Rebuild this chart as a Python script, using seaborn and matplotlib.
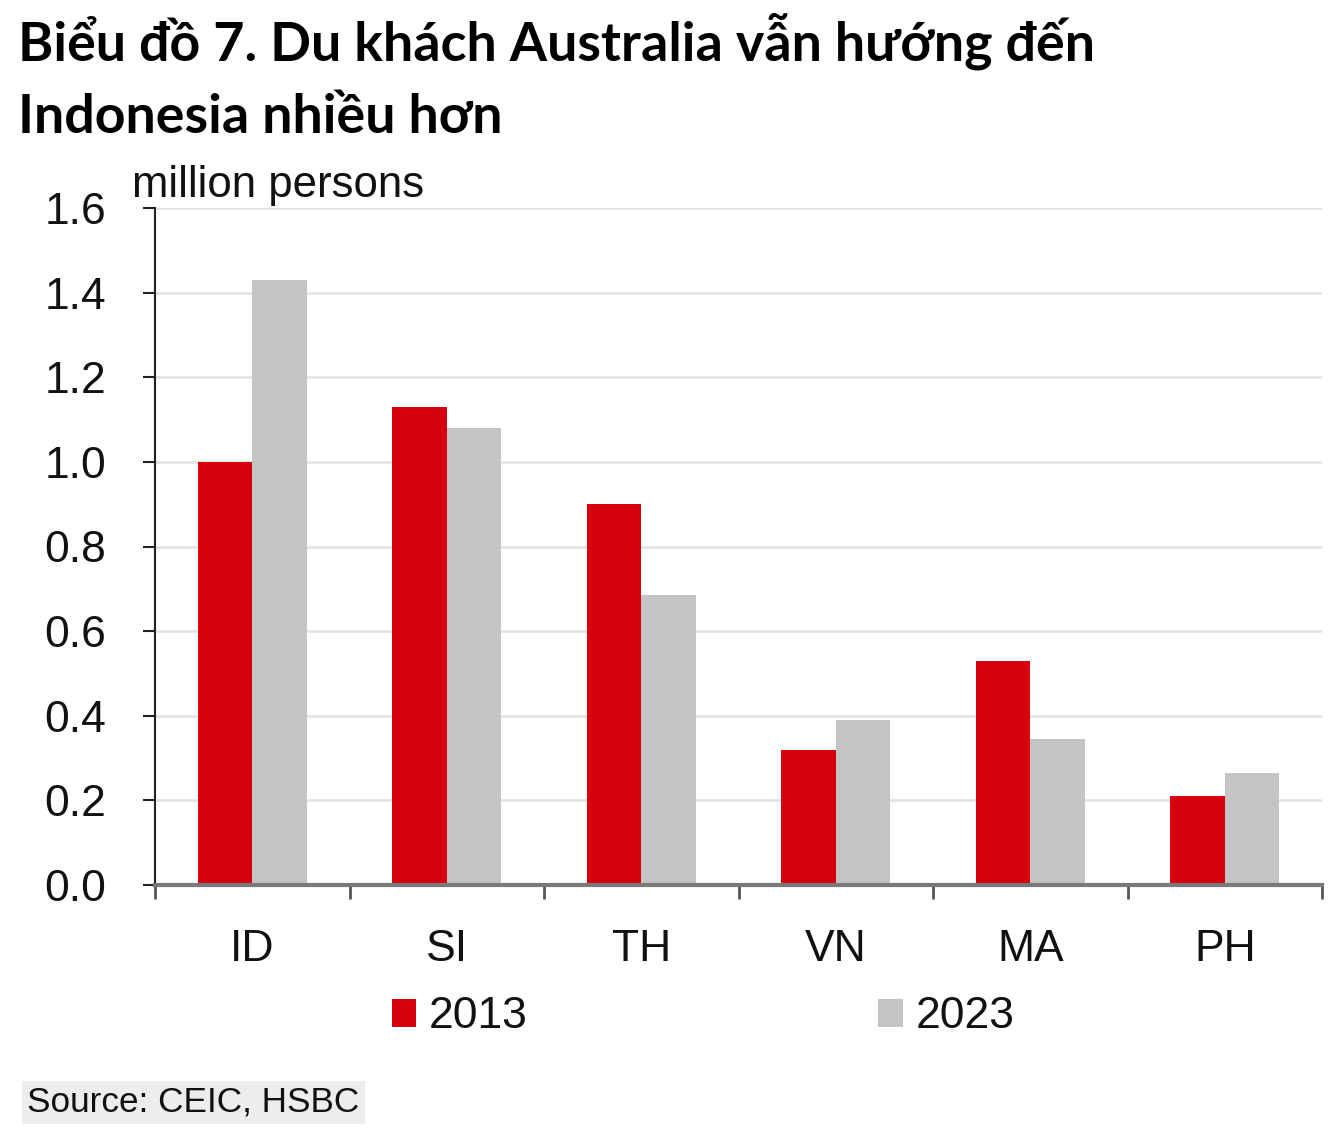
import matplotlib
matplotlib.use("Agg")
import matplotlib.pyplot as plt
import seaborn as sns
import pandas as pd
from matplotlib.patches import Patch
from matplotlib.ticker import FixedLocator, MultipleLocator

categories = ["ID", "SI", "TH", "VN", "MA", "PH"]
values_2013 = [1.00, 1.13, 0.90, 0.32, 0.53, 0.21]
values_2023 = [1.43, 1.08, 0.685, 0.39, 0.345, 0.265]
years = ["2013", "2023"]
colors = ["#d7000f", "#c4c4c4"]

title_lines = ["Biểu đồ 7. Du khách Australia vẫn hướng đến", "Indonesia nhiều hơn"]
unit_label = "million persons"
source_text = "Source: CEIC, HSBC"

df = pd.DataFrame({
    "country": categories * 2,
    "year": [years[0]] * len(categories) + [years[1]] * len(categories),
    "value": values_2013 + values_2023,
})

sns.set_theme(style="white")
narrow = ["Liberation Sans Narrow", "Liberation Sans", "DejaVu Sans"]
plt.rcParams["font.family"] = narrow

fig = plt.figure(figsize=(13.4, 11.37), dpi=100)
ax = fig.add_axes([155 / 1340, 1 - 885 / 1137, (1322 - 155) / 1340, (885 - 208) / 1137])

sns.barplot(data=df, x="country", y="value", hue="year", order=categories,
            hue_order=years, palette=colors, width=0.56, saturation=1,
            linewidth=0, ax=ax, legend=False)

ax.set_ylim(0, 1.6)
ax.set_xlim(-0.5, 5.5)
ax.yaxis.set_major_locator(MultipleLocator(0.2))
ax.set_yticklabels([f"{v:.1f}" for v in ax.get_yticks()])
ax.grid(axis="y", color="#e2e2e2", linewidth=1.8)
ax.set_axisbelow(True)
ax.set_xlabel("")
ax.set_ylabel("")

for s in ["top", "right"]:
    ax.spines[s].set_visible(False)
ax.spines["left"].set_color("#222222")
ax.spines["left"].set_linewidth(1.5)
ax.spines["bottom"].set_color("#7a7a7a")
ax.spines["bottom"].set_linewidth(3)
ax.spines["bottom"].set_zorder(5)

ax.tick_params(axis="y", which="major", direction="out", length=9, width=1.5,
               color="#222222", pad=26, labelsize=32, labelcolor="#111111", left=True)
ax.tick_params(axis="x", which="major", length=0, pad=32, labelsize=32, labelcolor="#111111")
ax.xaxis.set_minor_locator(FixedLocator([i - 0.5 for i in range(len(categories) + 1)]))
ax.tick_params(axis="x", which="minor", direction="out", length=10, width=2,
               color="#555555", bottom=True)

fig.text(132 / 1340, 1 - 197 / 1137, unit_label, fontsize=31.5, color="#111111",
         va="baseline", ha="left")

tfam = ["Lato", "Open Sans", "DejaVu Sans"]
fig.text(18 / 1340, 1 - 61 / 1137, title_lines[0], fontsize=38.7, fontweight="bold",
         family=tfam, va="baseline", ha="left", color="black")
fig.text(18 / 1340, 1 - 133 / 1137, title_lines[1], fontsize=38.7, fontweight="bold",
         family=tfam, va="baseline", ha="left", color="black")

handles = [Patch(facecolor=c, edgecolor="none") for c in colors]
fig.legend(handles, years, ncol=2, loc="center", bbox_to_anchor=(703 / 1340, 1 - 1017 / 1137),
           frameon=False, fontsize=32, handlelength=0.55, handleheight=0.6,
           handletextpad=0.28, columnspacing=7.9, labelcolor="#111111")

fig.text(27 / 1340, 1 - 1112 / 1137, source_text, fontsize=25.3, color="#111111",
         va="baseline", ha="left",
         bbox=dict(facecolor="#ededed", edgecolor="none", boxstyle="square,pad=0.15"))

fig.savefig("out.png", dpi=100, facecolor="white")
